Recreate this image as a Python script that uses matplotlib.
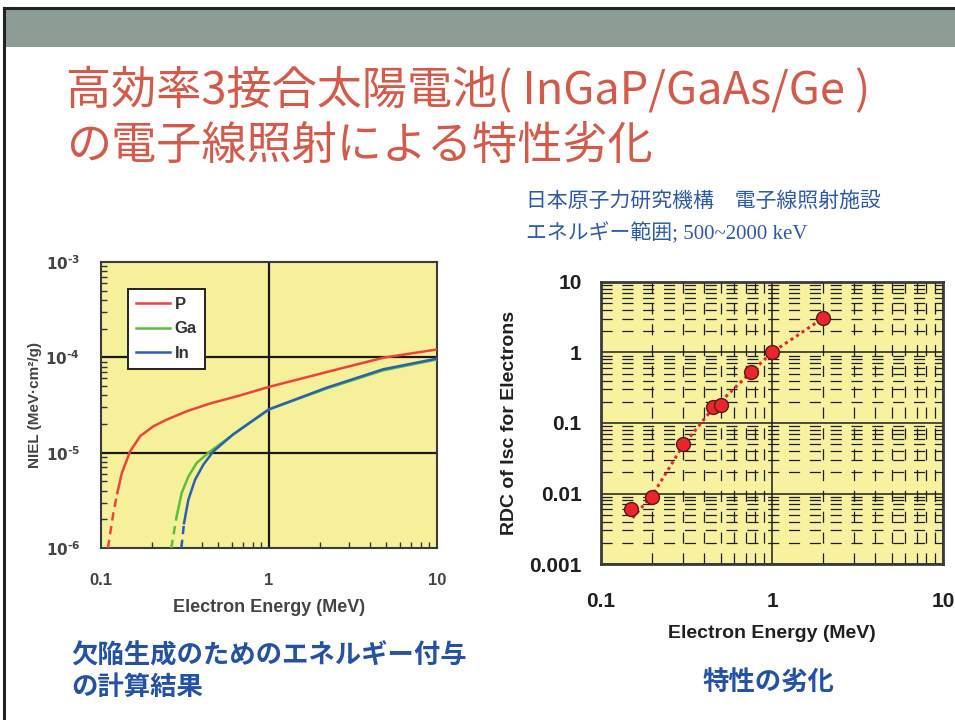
import matplotlib
matplotlib.use("Agg")
import matplotlib.pyplot as plt
from matplotlib.patches import Rectangle
from matplotlib.lines import Line2D
from matplotlib.ticker import LogLocator, NullFormatter

plt.rcParams['lines.scale_dashes'] = False

# ---------------- data ----------------
# NIEL (MeV cm^2/g) vs electron energy (MeV); low-energy tails are drawn dashed
p_dash_e = [0.110, 0.1184, 0.125]
p_dash_niel = [1.0e-6, 2.32e-6, 3.77e-6]
p_e = [0.125, 0.133, 0.149, 0.171, 0.205, 0.246, 0.324, 0.446, 0.671, 1.0,
       2.2, 4.79, 10.0]
p_niel = [3.77e-6, 6.1e-6, 1.03e-5, 1.49e-5, 1.89e-5, 2.22e-5, 2.72e-5,
          3.28e-5, 3.98e-5, 4.9e-5, 7.0e-5, 9.9e-5, 1.21e-4]

ga_dash_e = [0.262, 0.282]
ga_dash_niel = [1.0e-6, 2.14e-6]
ga_e = [0.282, 0.302, 0.331, 0.371, 0.446, 0.613, 0.77, 1.0, 2.2, 4.79, 10.0]
ga_niel = [2.14e-6, 3.77e-6, 5.6e-6, 7.8e-6, 1.03e-5, 1.55e-5, 2.06e-5,
           2.84e-5, 4.7e-5, 7.3e-5, 9.5e-5]

in_dash_e = [0.301, 0.312]
in_dash_niel = [1.0e-6, 1.82e-6]
in_e = [0.312, 0.331, 0.363, 0.407, 0.466, 0.613, 0.77, 1.0, 2.2, 4.79, 10.0]
in_niel = [1.82e-6, 3.2e-6, 5.2e-6, 7.5e-6, 1.03e-5, 1.56e-5, 2.07e-5,
           2.85e-5, 4.8e-5, 7.5e-5, 9.7e-5]

niel_ticks = [1e-6, 1e-5, 1e-4, 1e-3]
niel_tick_labels = ['$\\mathbf{10^{\u20106}}$', '$\\mathbf{10^{\u20105}}$',
                    '$\\mathbf{10^{\u20104}}$', '$\\mathbf{10^{\u20103}}$']
energy_ticks = [0.1, 1, 10]
energy_tick_labels = ['0.1', '1', '10']

# Relative damage coefficient of Isc for electrons
rdc_e = [0.15, 0.20, 0.30, 0.45, 0.50, 0.75, 1.0, 2.0]
rdc = [0.006, 0.009, 0.05, 0.17, 0.18, 0.53, 1.0, 3.1]
fit_e = [0.153, 0.20, 0.30, 0.45, 0.50, 0.75, 1.0, 2.0]
fit_rdc = [0.0045, 0.0095, 0.047, 0.16, 0.20, 0.52, 1.0, 3.1]
rdc_ticks = [0.001, 0.01, 0.1, 1, 10]
rdc_tick_labels = ['0.001', '0.01', '0.1', '1', '10']

# ---------------- figure ----------------
W, H = 955, 720
fig = plt.figure(figsize=(W / 100, H / 100), dpi=100)
fig.patch.set_facecolor('white')


def fx(x):
    return x / W


def fy(y):
    return 1 - y / H


# slide frame and header band
fig.add_artist(Rectangle((fx(5), fy(47)), 1 - fx(5), fy(9) - fy(47),
                         transform=fig.transFigure, facecolor='#8D9C95',
                         edgecolor='none'))
fig.add_artist(Line2D([fx(4), 1], [fy(8), fy(8)], transform=fig.transFigure,
                      color='#222222', lw=2.2))
fig.add_artist(Line2D([fx(4), fx(4)], [fy(8), 0], transform=fig.transFigure,
                      color='#222222', lw=2.2))

cjk = ['Noto Sans CJK JP', 'DejaVu Sans']
title_color = '#D65A4A'
fig.text(fx(66), fy(91), '高効率3接合太陽電池( InGaP/GaAs/Ge )', family=cjk,
         fontsize=32.5, color=title_color, va='center', ha='left')
fig.text(fx(66), fy(146), 'の電子線照射による特性劣化', family=cjk,
         fontsize=32.5, color=title_color, va='center', ha='left')

blue = '#2D5BA9'
fig.text(fx(526), fy(201), '日本原子力研究機構\u3000電子線照射施設', family=cjk,
         fontsize=15, color=blue, va='center', ha='left')
fig.text(fx(526), fy(233), 'エネルギー範囲; 500~2000 keV',
         family=['Liberation Serif', 'Noto Sans CJK JP'],
         fontsize=15, color=blue, va='center', ha='left')

fig.text(fx(71), fy(656), '欠陥生成のためのエネルギー付与', family=cjk,
         fontsize=19, fontweight='bold', color='#2452A6', va='center', ha='left')
fig.text(fx(71), fy(687), 'の計算結果', family=cjk,
         fontsize=19, fontweight='bold', color='#2452A6', va='center', ha='left')
fig.text(fx(768), fy(683), '特性の劣化', family=cjk,
         fontsize=19, fontweight='bold', color='#2452A6', va='center', ha='center')

# ---------------- left chart: NIEL ----------------
axL = fig.add_axes([fx(101), fy(548), fx(437) - fx(101), fy(262) - fy(548)])
axL.set_facecolor('#F6F09B')
axL.set_xscale('log')
axL.set_yscale('log')
axL.set_xlim(0.1, 10)
axL.set_ylim(1e-6, 1e-3)

axL.axvline(1, color='#1a1a1a', lw=1.6, zorder=1)
for yv in [1e-5, 1e-4]:
    axL.axhline(yv, color='#1a1a1a', lw=1.6, zorder=1)

red, green, bluel = '#F0413A', '#5CBF3C', '#2B5FB5'
axL.plot(p_e, p_niel, color=red, lw=1.8, label='P', zorder=3)
axL.plot(ga_e, ga_niel, color=green, lw=1.8, label='Ga', zorder=3)
axL.plot(in_e, in_niel, color=bluel, lw=1.8, label='In', zorder=4)
dash = (0, (6, 4))
axL.plot(p_dash_e, p_dash_niel, color=red, lw=1.8, ls=dash, zorder=3)
axL.plot(ga_dash_e, ga_dash_niel, color=green, lw=1.8, ls=dash, zorder=3)
axL.plot(in_dash_e, in_dash_niel, color=bluel, lw=1.8, ls=dash, zorder=4)

axL.set_xticks(energy_ticks)
axL.set_xticklabels(energy_tick_labels)
axL.set_yticks(niel_ticks)
axL.set_yticklabels(niel_tick_labels)
axL.xaxis.set_minor_locator(LogLocator(base=10, subs=range(2, 10)))
axL.yaxis.set_minor_locator(LogLocator(base=10, subs=range(2, 10)))
axL.xaxis.set_minor_formatter(NullFormatter())
axL.yaxis.set_minor_formatter(NullFormatter())
axL.tick_params(axis='x', which='major', length=0, pad=18, labelsize=12,
                labelcolor='#444444')
axL.tick_params(axis='y', which='major', length=0, pad=15, labelsize=11,
                labelcolor='#444444')
axL.tick_params(which='minor', direction='in', length=4, width=1.0,
                color='#333333')
for lab in axL.get_xticklabels() + axL.get_yticklabels():
    lab.set_fontweight('bold')
    lab.set_family('Liberation Sans')
for s in axL.spines.values():
    s.set_linewidth(1.5)
    s.set_color('#3a3a3a')
axL.set_xlabel('Electron Energy (MeV)', fontsize=13, fontweight='bold',
               color='#444444', family='Liberation Sans', labelpad=8)
axL.set_ylabel('NIEL (MeV·cm²/g)', fontsize=11, fontweight='bold',
               color='#444444', family='Liberation Sans')
axL.yaxis.set_label_coords(-0.175, 0.5)

leg = axL.legend(loc='upper left', bbox_to_anchor=(0.08, 0.906),
                 borderaxespad=0, frameon=True, fancybox=False,
                 handlelength=2.0, handletextpad=0.3, borderpad=0.5,
                 labelspacing=0.55,
                 prop={'family': 'Liberation Sans', 'weight': 'bold', 'size': 12})
leg.get_frame().set_edgecolor('#222222')
leg.get_frame().set_linewidth(1.4)
leg.get_frame().set_alpha(1)
for t in leg.get_texts():
    t.set_color('#333333')

# ---------------- right chart: RDC ----------------
axR = fig.add_axes([fx(601), fy(564), fx(943) - fx(601), fy(282) - fy(564)])
axR.set_facecolor('#F8F2A0')
axR.set_xscale('log')
axR.set_yscale('log')
axR.set_xlim(0.1, 10)
axR.set_ylim(0.001, 10)

axR.xaxis.set_minor_locator(LogLocator(base=10, subs=range(2, 10)))
axR.yaxis.set_minor_locator(LogLocator(base=10, subs=range(2, 10)))
axR.xaxis.set_minor_formatter(NullFormatter())
axR.yaxis.set_minor_formatter(NullFormatter())
axR.grid(which='minor', color='#1e1e1e', lw=0.9, ls=(0, (8, 7)))
axR.grid(which='major', color='#1e1e1e', lw=1.1, ls='-')
axR.set_axisbelow(True)

axR.plot(fit_e, fit_rdc, color='#E8262B', lw=2.2, ls=(0, (2.2, 2.6)), zorder=3)
axR.plot(rdc_e, rdc, ls='none', marker='o', ms=10, mfc='#E8262B',
         mec='#5a1a1a', mew=1.0, zorder=4)

axR.set_xticks(energy_ticks)
axR.set_xticklabels(energy_tick_labels)
axR.set_yticks(rdc_ticks)
axR.set_yticklabels(rdc_tick_labels)
axR.tick_params(which='both', length=0)
axR.tick_params(axis='x', which='major', pad=20, labelsize=15)
axR.tick_params(axis='y', which='major', pad=14, labelsize=15)
for lab in axR.get_xticklabels() + axR.get_yticklabels():
    lab.set_fontweight('bold')
    lab.set_family('Liberation Sans')
    lab.set_color('#231F20')
for s in axR.spines.values():
    s.set_linewidth(2.0)
    s.set_color('#3a3a3a')
axR.set_xlabel('Electron Energy (MeV)', fontsize=14, fontweight='bold',
               color='#231F20', family='Liberation Sans', labelpad=10)
axR.set_ylabel('RDC of Isc for Electrons', fontsize=14, fontweight='bold',
               color='#231F20', family='Liberation Sans', labelpad=8)

fig.savefig('out.png', dpi=100)
